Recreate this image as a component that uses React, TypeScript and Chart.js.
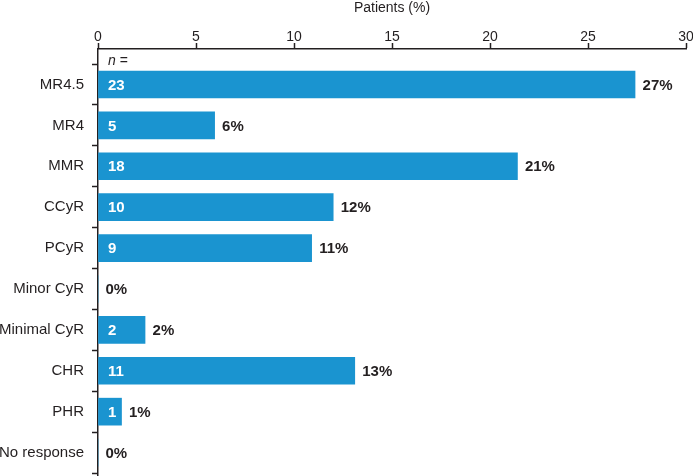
import React, { useEffect, useRef } from "react";
import { Chart, registerables } from "chart.js";

Chart.register(...registerables);

const categories = [
  "MR4.5",
  "MR4",
  "MMR",
  "CCyR",
  "PCyR",
  "Minor CyR",
  "Minimal CyR",
  "CHR",
  "PHR",
  "No response",
];
const patientsPct = [27.4, 5.95, 21.4, 12.0, 10.9, 0, 2.4, 13.1, 1.2, 0];
const counts = [23, 5, 18, 10, 9, 0, 2, 11, 1, 0];
const pctLabels = ["27%", "6%", "21%", "12%", "11%", "0%", "2%", "13%", "1%", "0%"];
const xTicks = [0, 5, 10, 15, 20, 25, 30];

const FONT = "'Liberation Sans', Arial, Helvetica, sans-serif";
const DARK = "#231f20";
const BAR = "#1a94d0";

const labelPlugin = {
  id: "barLabels",
  afterDatasetsDraw(chart: any) {
    const ctx = chart.ctx;
    const meta = chart.getDatasetMeta(0);
    const yScale = chart.scales.y;
    ctx.save();
    ctx.textBaseline = "middle";
    ctx.textAlign = "left";
    meta.data.forEach((el: any, i: number) => {
      const base = el.base;
      if (counts[i] > 0) {
        ctx.fillStyle = "#ffffff";
        ctx.font = `bold 15px ${FONT}`;
        ctx.fillText(String(counts[i]), base + 9.5, el.y + 1);
      }
      ctx.fillStyle = DARK;
      ctx.font = `bold 15px ${FONT}`;
      ctx.fillText(pctLabels[i], el.x + 7.5, el.y + 1);
    });
    const x0 = meta.data[0].base;
    ctx.textBaseline = "alphabetic";
    ctx.fillStyle = DARK;
    ctx.font = `italic 14px ${FONT}`;
    const nW = ctx.measureText("n").width;
    ctx.fillText("n", x0 + 9.5, yScale.getPixelForValue(-0.5) + 1);
    ctx.font = `14px ${FONT}`;
    ctx.fillText(" =", x0 + 9.5 + nW, yScale.getPixelForValue(-0.5) + 1);
    ctx.restore();
  },
};

export default function App() {
  const ref = useRef<HTMLCanvasElement | null>(null);

  useEffect(() => {
    if (!ref.current) return;
    const data = patientsPct.map((v, i) => ({ x: v, y: i }));
    const chart = new Chart(ref.current, {
      type: "bar",
      data: {
        datasets: [
          {
            data: data as any,
            backgroundColor: BAR,
            borderWidth: 0,
            barThickness: 27,
          },
        ],
      },
      plugins: [labelPlugin],
      options: {
        indexAxis: "y",
        animation: false,
        responsive: false,
        layout: { padding: { top: 0, left: 0, right: 0, bottom: 0 } },
        plugins: {
          legend: { display: false },
          tooltip: { enabled: false },
          title: { display: false },
        },
        scales: {
          x: {
            type: "linear",
            position: "top",
            min: 0,
            max: 30,
            afterBuildTicks: (scale: any) => {
              scale.ticks = xTicks.map((v) => ({ value: v }));
            },
            afterFit: (scale: any) => {
              scale.height = 49;
              scale.paddingLeft = 0;
              scale.paddingRight = 7;
            },
            ticks: {
              font: { family: FONT, size: 14 },
              color: DARK,
              padding: -3,
              autoSkip: false,
              maxRotation: 0,
            },
            grid: {
              drawOnChartArea: false,
              tickLength: 6,
              tickColor: DARK,
              tickWidth: 1.5,
            },
            border: { display: true, color: DARK, width: 1.5 },
            title: {
              display: true,
              text: "Patients (%)",
              color: DARK,
              font: { family: FONT, size: 14, lineHeight: 1 },
              padding: { top: 1, bottom: 0 },
            },
          },
          y: {
            type: "linear",
            reverse: true,
            offset: false,
            min: -0.867,
            max: 9.573,
            afterBuildTicks: (scale: any) => {
              const t: any[] = [];
              for (let v = -0.5; v <= 9.5 + 1e-9; v += 0.5) t.push({ value: v });
              scale.ticks = t;
            },
            afterFit: (scale: any) => {
              scale.width = 98;
              scale.paddingTop = 0;
              scale.paddingBottom = 0;
            },
            ticks: {
              autoSkip: false,
              font: { family: FONT, size: 15 },
              color: DARK,
              padding: 8,
              callback: (value: any) => {
                const v = Number(value);
                return Number.isInteger(v) && v >= 0 && v < categories.length
                  ? categories[v]
                  : "";
              },
            },
            grid: {
              offset: false,
              drawOnChartArea: false,
              tickLength: 6,
              tickWidth: 1.5,
              tickColor: (c: any) =>
                c.tick && Number.isInteger(c.tick.value) ? "rgba(0,0,0,0)" : DARK,
            },
            border: { display: true, color: DARK, width: 1.5 },
          },
        },
      },
    });
    return () => chart.destroy();
  }, []);

  return (
    <div style={{ position: "absolute", left: 0, top: 0, width: 693, height: 476, background: "#fff" }}>
      <canvas ref={ref} width={693} height={476} style={{ display: "block" }} />
    </div>
  );
}
